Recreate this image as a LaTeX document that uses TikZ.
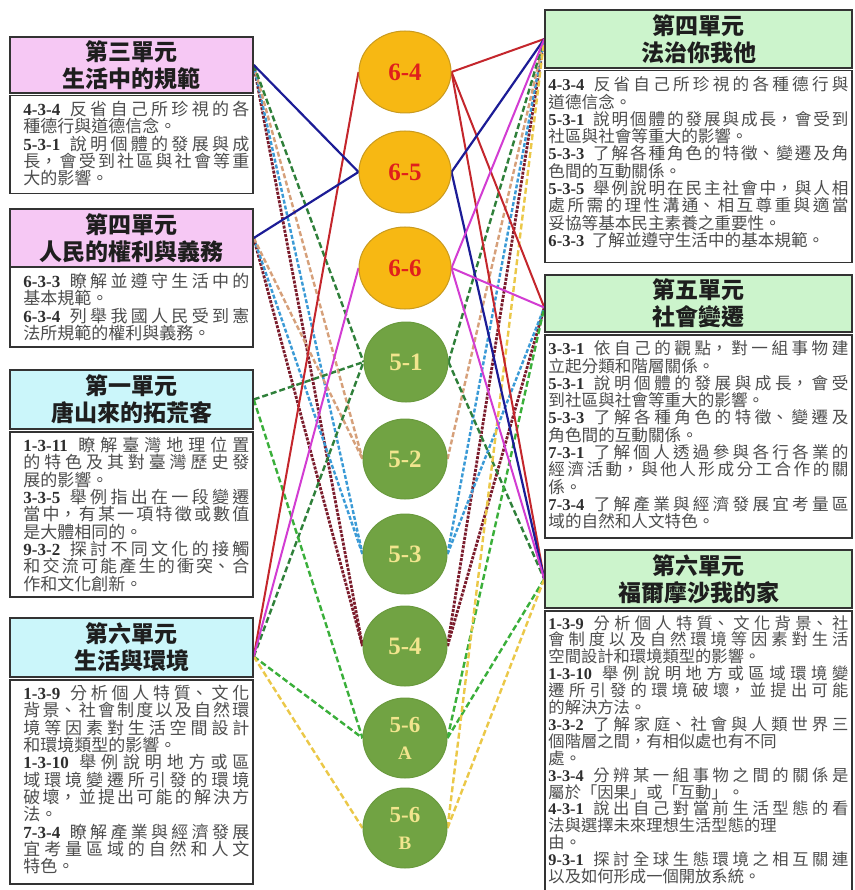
\documentclass[tikz,border=0pt]{standalone}
\usepackage{fontspec}
\setmainfont{Liberation Serif}
\newfontfamily\cjkf{Noto Sans CJK TC}
\newfontfamily\numf{Liberation Serif}
\usetikzlibrary{calc,shapes.geometric}
\XeTeXlinebreaklocale "zh"
\XeTeXlinebreakskip=0pt plus 5pt
\tolerance=10000
\hbadness=10000
\setlength{\parindent}{0pt}
\pgfdeclarelayer{bg}
\pgfsetlayers{bg,main}
\definecolor{pinkc}{HTML}{F6C8F4}
\definecolor{cyanc}{HTML}{CBF6FA}
\definecolor{greenc}{HTML}{CCF4CC}
\definecolor{bordc}{HTML}{333333}
\definecolor{titc}{HTML}{1E1E1E}
\definecolor{txtc}{HTML}{4D4D4D}
\definecolor{codec}{HTML}{2E2E2E}
\definecolor{orgc}{HTML}{F7B813}
\definecolor{orgd}{HTML}{C99A1E}
\definecolor{redt}{HTML}{E0201C}
\definecolor{grnc}{HTML}{71A343}
\definecolor{grnd}{HTML}{6A9A3E}
\definecolor{yelt}{HTML}{F2E58E}
\definecolor{cred}{HTML}{C4262C}
\definecolor{cblue}{HTML}{1C1C96}
\definecolor{cmag}{HTML}{D23CD2}
\definecolor{cdg}{HTML}{2F803A}
\definecolor{ctan}{HTML}{D6A07A}
\definecolor{clb}{HTML}{3A9AD6}
\definecolor{cmar}{HTML}{7B1C2C}
\definecolor{cbg}{HTML}{3AAF3A}
\definecolor{cyel}{HTML}{EBC848}
\newcommand{\cd}[1]{{\numf\bfseries\color{codec}#1}\hspace{0.45em plus 3pt}}
\begin{document}
\begin{tikzpicture}[x=1pt,y=-1pt,
  tbox/.style={draw=bordc, line width=1.5pt, minimum width=243pt, minimum height=#1, inner sep=0pt,
    align=center, font=\cjkf\bfseries\fontsize{23}{27}\selectfont, text=titc},
  cbox/.style={draw=bordc, line width=1.5pt, fill=white, inner sep=0pt, anchor=north},
  ltext/.style={anchor=north west, inner sep=0pt, text width=226pt, align=justify,
    font=\cjkf\fontsize{17}{17.3}\selectfont, text=txtc},
  rtext/.style={anchor=north west, inner sep=0pt, text width=300pt, align=justify,
    font=\cjkf\fontsize{16.6}{17.3}\selectfont, text=txtc},
  ocirc/.style={ellipse, draw=orgd, line width=1pt, fill=orgc, minimum width=92pt, minimum height=82pt,
    inner sep=0pt, text=redt, font=\numf\bfseries\fontsize{25}{25}\selectfont},
  gcirc/.style={ellipse, draw=grnd, line width=1pt, fill=grnc, minimum width=84pt, minimum height=80pt,
    inner sep=0pt, text=yelt, align=center, font=\numf\bfseries\fontsize{25}{26}\selectfont},
  lnred/.style={draw=cred, line width=2pt},
  lnblue/.style={draw=cblue, line width=2.2pt},
  lnmag/.style={draw=cmag, line width=2pt},
  lndg/.style={draw=cdg, line width=2.4pt, dash pattern=on 6pt off 3pt},
  lntan/.style={draw=ctan, line width=2.4pt, dash pattern=on 5pt off 2.5pt},
  lnlb/.style={draw=clb, line width=2.4pt, dash pattern=on 4pt off 2pt},
  lnmar/.style={draw=cmar, line width=2.8pt, dash pattern=on 3pt off 1.3pt},
  lnbg/.style={draw=cbg, line width=2.4pt, dash pattern=on 6pt off 3pt},
  lnyel/.style={draw=cyel, line width=2.4pt, dash pattern=on 6pt off 3pt}]
\useasboundingbox (0,0) rectangle (854,890);
\begin{pgfonlayer}{bg}
\fill[white] (0,0) rectangle (854,890);
\end{pgfonlayer}

% ---------- left boxes ----------
\node[tbox=56pt, fill=pinkc] (L1t) at (131.5,65) {第三單元\\生活中的規範};
\node[cbox, minimum width=243pt, minimum height=98pt] (L1c) at (131.5,95) {};
\node[ltext] (L1x) at ($(L1c.north west)+(14,6)$) {%
\cd{4-3-4}反省自己所珍視的各\linebreak
種德行與道德信念。\\
\cd{5-3-1}說明個體的發展與成\linebreak
長，會受到社區與社會等重\linebreak
大的影響。};

\node[tbox=58pt, fill=pinkc] (L2t) at (131.5,238) {第四單元\\人民的權利與義務};
\node[cbox, minimum width=243pt, minimum height=79pt] (L2c) at (131.5,267) {};
\node[ltext] (L2x) at ($(L2c.north west)+(14,6)$) {%
\cd{6-3-3}瞭解並遵守生活中的\linebreak
基本規範。\\
\cd{6-3-4}列舉我國人民受到憲\linebreak
法所規範的權利與義務。};

\node[tbox=59pt, fill=cyanc] (L3t) at (131.5,399.5) {第一單元\\唐山來的拓荒客};
\node[cbox, minimum width=243pt, minimum height=165pt] (L3c) at (131.5,431) {};
\node[ltext] (L3x) at ($(L3c.north west)+(14,6)$) {%
\cd{1-3-11}瞭解臺灣地理位置\linebreak
的特色及其對臺灣歷史發\linebreak
展的影響。\\
\cd{3-3-5}舉例指出在一段變遷\linebreak
當中，有某一項特徵或數值\linebreak
是大體相同的。\\
\cd{9-3-2}探討不同文化的接觸\linebreak
和交流可能產生的衝突、合\linebreak
作和文化創新。};

\node[tbox=59pt, fill=cyanc] (L4t) at (131.5,647.5) {第六單元\\生活與環境};
\node[cbox, minimum width=243pt, minimum height=204pt] (L4c) at (131.5,679) {};
\node[ltext] (L4x) at ($(L4c.north west)+(14,6)$) {%
\cd{1-3-9}分析個人特質、文化\linebreak
背景、社會制度以及自然環\linebreak
境等因素對生活空間設計\linebreak
和環境類型的影響。\\
\cd{1-3-10}舉例說明地方或區\linebreak
域環境變遷所引發的環境\linebreak
破壞，並提出可能的解決方\linebreak
法。\\
\cd{7-3-4}瞭解產業與經濟發展\linebreak
宜考量區域的自然和人文\linebreak
特色。};

% ---------- right boxes ----------
\node[tbox=58pt, fill=greenc, minimum width=307pt] (R1t) at (698.5,39) {第四單元\\法治你我他};
\node[cbox, minimum width=307pt, minimum height=192pt] (R1c) at (698.5,70) {};
\node[rtext] (R1x) at ($(R1c.north west)+(4,6.5)$) {%
\cd{4-3-4}反省自己所珍視的各種德行與\linebreak
道德信念。\\
\cd{5-3-1}說明個體的發展與成長，會受到\linebreak
社區與社會等重大的影響。\\
\cd{5-3-3}了解各種角色的特徵、變遷及角\linebreak
色間的互動關係。\\
\cd{5-3-5}舉例說明在民主社會中，與人相\linebreak
處所需的理性溝通、相互尊重與適當\linebreak
妥協等基本民主素養之重要性。\\
\cd{6-3-3}了解並遵守生活中的基本規範。};

\node[tbox=57pt, fill=greenc, minimum width=307pt] (R2t) at (698.5,303.5) {第五單元\\社會變遷};
\node[cbox, minimum width=307pt, minimum height=203pt] (R2c) at (698.5,334) {};
\node[rtext] (R2x) at ($(R2c.north west)+(4,6.5)$) {%
\cd{3-3-1}依自己的觀點，對一組事物建\linebreak
立起分類和階層關係。\\
\cd{5-3-1}說明個體的發展與成長，會受\linebreak
到社區與社會等重大的影響。\\
\cd{5-3-3}了解各種角色的特徵、變遷及\linebreak
角色間的互動關係。\\
\cd{7-3-1}了解個人透過參與各行各業的\linebreak
經濟活動，與他人形成分工合作的關\linebreak
係。\\
\cd{7-3-4}了解產業與經濟發展宜考量區\linebreak
域的自然和人文特色。};

\node[tbox=58pt, fill=greenc, minimum width=307pt] (R3t) at (698.5,579) {第六單元\\福爾摩沙我的家};
\node[cbox, minimum width=307pt, minimum height=285pt] (R3c) at (698.5,610) {};
\node[rtext, font=\cjkf\fontsize{16.3}{16.9}\selectfont] (R3x) at ($(R3c.north west)+(4,5)$) {%
\cd{1-3-9}分析個人特質、文化背景、社\linebreak
會制度以及自然環境等因素對生活\linebreak
空間設計和環境類型的影響。\\
\cd{1-3-10}舉例說明地方或區域環境變\linebreak
遷所引發的環境破壞，並提出可能\linebreak
的解決方法。\\
\cd{3-3-2}了解家庭、社會與人類世界三\linebreak
個階層之間，有相似處也有不同\\
處。\\
\cd{3-3-4}分辨某一組事物之間的關係是\linebreak
屬於「因果」或「互動」。\\
\cd{4-3-1}說出自己對當前生活型態的看\linebreak
法與選擇未來理想生活型態的理\\
由。\\
\cd{9-3-1}探討全球生態環境之相互關連\linebreak
以及如何形成一個開放系統。};

% ---------- circles ----------
\node[ocirc] (C64) at (405,72) {6-4};
\node[ocirc] (C65) at (405,172) {6-5};
\node[ocirc] (C66) at (405,268) {6-6};
\node[gcirc] (C51) at (406,362) {5-1};
\node[gcirc] (C52) at (405,459) {5-2};
\node[gcirc] (C53) at (405,554) {5-3};
\node[gcirc] (C54) at (405,646) {5-4};
\node[gcirc, font=\numf\bfseries\fontsize{23}{27}\selectfont] (C56A) at (405,738) {5-6\\{\fontsize{19}{19}\selectfont A}};
\node[gcirc, font=\numf\bfseries\fontsize{23}{27}\selectfont] (C56B) at (405,828) {5-6\\{\fontsize{19}{19}\selectfont B}};

\coordinate (pL4) at ([yshift=-9pt]L4t.east);
\coordinate (pR2) at ([yshift=-4pt]R2t.west);

% ---------- connectors ----------
\begin{pgfonlayer}{bg}
\draw[lnmar] (L1t.east) -- (C54.west);
\draw[lnmar] (L2t.east) -- (C54.west);
\draw[lnmar] (C54.east) -- (R1t.west);
\draw[lnmar] (C54.east) -- (pR2);
\draw[lnlb] (L1t.east) -- (C53.west);
\draw[lnlb] (L2t.east) -- (C53.west);
\draw[lnlb] (C53.east) -- (R1t.west);
\draw[lnlb] (C53.east) -- (pR2);
\draw[lntan] (L1t.east) -- (C52.west);
\draw[lntan] (L2t.east) -- (C52.west);
\draw[lntan] (C52.east) -- (R1t.west);
\draw[lndg] (L1t.east) -- (C51.west);
\draw[lndg] (L3t.east) -- (C51.west);
\draw[lndg] (pL4) -- (C51.west);
\draw[lndg] (C51.east) -- (R1t.west);
\draw[lndg] (C51.east) -- (R3t.west);
\draw[lnbg] (L3t.east) -- (C56A.west);
\draw[lnbg] (pL4) -- (C56A.west);
\draw[lnbg] (C56A.east) -- (pR2);
\draw[lnbg] (C56A.east) -- (R3t.west);
\draw[lnyel] (pL4) -- (C56B.west);
\draw[lnyel] (C56B.east) -- (R1t.west);
\draw[lnyel] (C56B.east) -- (R3t.west);
\draw[lnred] (pL4) -- (C64.west);
\draw[lnred] (C64.east) -- (R1t.west);
\draw[lnred] (C64.east) -- (pR2);
\draw[lnred] (C64.east) -- (R3t.west);
\draw[lnblue] (L1t.east) -- (C65.west);
\draw[lnblue] (L2t.east) -- (C65.west);
\draw[lnblue] (C65.east) -- (R1t.west);
\draw[lnblue] (C65.east) -- (R3t.west);
\draw[lnmag] (pL4) -- (C66.west);
\draw[lnmag] (C66.east) -- (R1t.west);
\draw[lnmag] (C66.east) -- (pR2);
\draw[lnmag] (C66.east) -- (R3t.west);
\end{pgfonlayer}
\end{tikzpicture}
\end{document}
